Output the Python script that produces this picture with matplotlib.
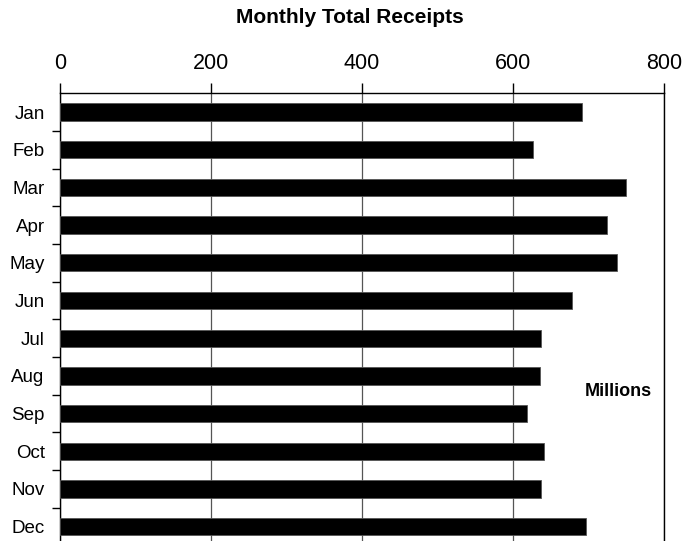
import matplotlib.pyplot as plt

plt.rcParams['font.family'] = ['Liberation Sans', 'DejaVu Sans']

months = ['Jan', 'Feb', 'Mar', 'Apr', 'May', 'Jun',
          'Jul', 'Aug', 'Sep', 'Oct', 'Nov', 'Dec']
receipts = [692, 626, 750, 724, 738, 678, 637, 636, 619, 641, 637, 697]
x_ticks = [0, 200, 400, 600, 800]

fig = plt.figure(figsize=(6.99, 5.41), dpi=100)
ax = fig.add_axes([0.0858, -0.0083, 0.864, 0.836])

pos = list(range(len(months)))
ax.barh(pos, receipts, height=0.46, color='black', edgecolor='#555555', linewidth=0.6, zorder=3)

ax.set_xlim(0, 800)
ax.set_ylim(len(months) - 0.5, -0.5)
ax.xaxis.tick_top()
ax.set_xticks(x_ticks)
ax.tick_params(axis='x', which='major', length=7, width=1, pad=7, labelsize=15.5)
ax.grid(axis='x', color='#555555', linewidth=0.9, zorder=0)

ax.set_yticks(pos, months)
ax.tick_params(axis='y', which='major', length=0, pad=11, labelsize=13.5)
ax.set_yticks([p + 0.5 for p in pos[:-1]], minor=True)
ax.tick_params(axis='y', which='minor', length=6, width=1)

for side in ['left', 'top', 'right']:
    ax.spines[side].set_linewidth(1)
ax.spines['bottom'].set_visible(False)

ax.text(740, 7.41, 'Millions', ha='center', va='center', fontsize=13, fontweight='bold')
fig.text(0.5, 0.968, 'Monthly Total Receipts', ha='center', va='center',
         fontsize=15, fontweight='bold')

fig.savefig('out.png', dpi=100)
